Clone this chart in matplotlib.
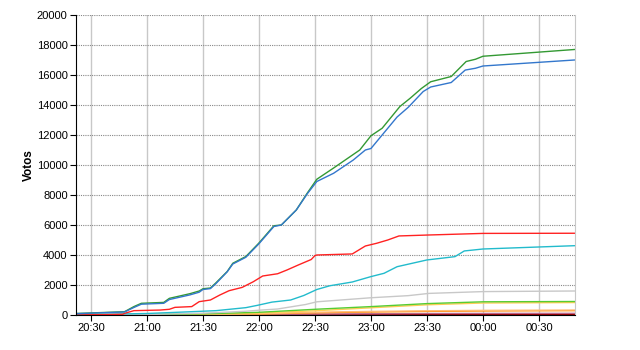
import datetime as dt
import matplotlib
matplotlib.use("Agg")
import matplotlib.pyplot as plt
import matplotlib.dates as mdates

# times are minutes after 20:00, values are votes
t_green = [22, 48, 53, 57, 69, 72, 83, 88, 90, 94, 97, 103, 106, 113, 120, 128, 132, 140, 146, 151,
           160, 170.5, 174, 180, 186, 195.5, 201, 207, 212, 223, 231, 236, 240, 289]
v_green = [100, 220, 560, 780, 840, 1110, 1420, 1600, 1750, 1800, 2150, 2900, 3450, 3900, 4800, 5950,
           6000, 7000, 8150, 9050, 9800, 10700, 11000, 11950, 12450, 13900, 14450, 15100, 15550, 15900,
           16900, 17050, 17250, 17700]

t_blue = [22, 48, 53, 57, 69, 72, 83, 88, 90, 94, 97, 103, 106, 113, 120, 128, 132, 140, 146, 151,
          160, 170.5, 177, 180, 186, 194, 200, 208, 212, 223, 230.5, 236, 240, 289]
v_blue = [90, 200, 500, 720, 780, 1030, 1340, 1520, 1700, 1760, 2100, 2880, 3400, 3850, 4750, 5900,
          6000, 7000, 8100, 8900, 9450, 10330, 11000, 11100, 12000, 13200, 13850, 14900, 15200, 15500,
          16330, 16450, 16600, 17000]

t_red = [22, 47, 48, 53, 67, 72, 75, 84, 88, 94, 99, 104, 111, 117, 122, 130, 135, 141, 148, 150,
         151, 170, 177, 183, 189, 195, 210, 240, 289]
v_red = [0, 50, 110, 290, 330, 380, 510, 560, 890, 1000, 1330, 1620, 1840, 2220, 2600, 2750, 3000,
         3330, 3700, 3960, 4000, 4070, 4600, 4780, 5000, 5270, 5330, 5440, 5450]

t_cyan = [22, 60, 80, 97, 113, 119, 127, 137, 144, 151, 158, 170, 180, 187, 194, 210, 225, 230, 240, 289]
v_cyan = [20, 100, 200, 290, 490, 640, 860, 1000, 1300, 1700, 1950, 2200, 2560, 2780, 3220, 3670,
          3890, 4270, 4400, 4620]

t_gray = [22, 60, 90, 113, 120, 130, 145, 151, 180, 200, 211, 240, 289]
v_gray = [0, 30, 120, 250, 320, 400, 700, 880, 1150, 1290, 1440, 1560, 1600]

t_small = [22, 60, 90, 120, 150, 180, 210, 240, 289]
v_lime = [0, 30, 80, 180, 380, 560, 760, 880, 900]
v_yellow = [0, 20, 50, 130, 280, 480, 680, 800, 830]
v_peach = [0, 10, 30, 80, 180, 240, 280, 310, 330]
v_orange = [0, 10, 20, 60, 150, 200, 240, 270, 290]
v_maroon = [0, 5, 15, 40, 60, 80, 100, 105, 110]
v_darkred = [0, 5, 10, 20, 30, 35, 40, 40, 45]

base = dt.datetime(2011, 5, 22, 20, 0)


def to_time(mins):
    return [base + dt.timedelta(minutes=m) for m in mins]


plt.rcParams['font.family'] = ['Liberation Sans', 'DejaVu Sans']
fig = plt.figure(figsize=(6.4, 3.5), dpi=100)
ax = fig.add_axes([76 / 640, 1 - 315 / 350, (575 - 76) / 640, 300 / 350])

ax.plot(to_time(t_small), v_darkred, color='#990000', lw=1)
ax.plot(to_time(t_small), v_maroon, color='#bb6688', lw=1)
ax.plot(to_time(t_small), v_orange, color='#ff8800', lw=1)
ax.plot(to_time(t_small), v_peach, color='#ffbb77', lw=1)
ax.plot(to_time(t_small), v_yellow, color='#ffcc55', lw=1)
ax.plot(to_time(t_small), v_lime, color='#55cc33', lw=1)
ax.plot(to_time(t_gray), v_gray, color='#c8c8c8', lw=1)
ax.plot(to_time(t_cyan), v_cyan, color='#22bbcc', lw=1)
ax.plot(to_time(t_red), v_red, color='#ff2222', lw=1)
ax.plot(to_time(t_green), v_green, color='#339933', lw=1)
ax.plot(to_time(t_blue), v_blue, color='#3377cc', lw=1)

ax.set_xlim(to_time([22])[0], to_time([289.3])[0])
ax.set_ylim(0, 20000)
ax.set_yticks(range(0, 20001, 2000))
ticks = to_time([30, 60, 90, 120, 150, 180, 210, 240, 270])
ax.set_xticks(ticks)
ax.xaxis.set_major_formatter(mdates.DateFormatter('%H:%M'))

ax.grid(axis='y', color='#888888', linestyle=(0, (1, 1)), lw=0.8)
ax.grid(axis='x', color='#c8c8c8', linestyle='-', lw=1)
ax.set_axisbelow(True)

ax.spines['top'].set_visible(False)
ax.spines['right'].set_color('#c8c8c8')
ax.spines['left'].set_color('black')
ax.spines['bottom'].set_color('black')
ax.tick_params(axis='both', labelsize=8, length=4, width=0.8, direction='out', pad=2)

ax.set_ylabel('Votos', fontsize=8.5, fontweight='bold')
# label sits at about x=30 px in the reference
ax.yaxis.set_label_coords((35 - 76) / 499, 0.5)

fig.savefig('out.png', dpi=100)
